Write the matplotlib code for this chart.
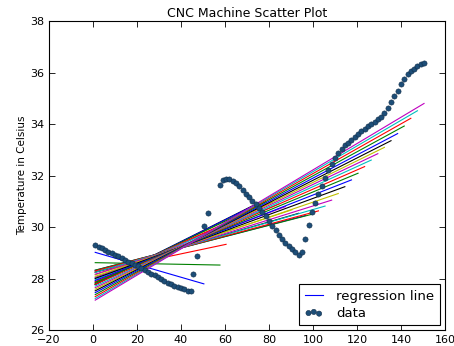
import numpy as np
import matplotlib
matplotlib.use("Agg")
import matplotlib.pyplot as plt

# time values
x_data = [1.0, 2.5, 4.0, 5.5, 7.0, 8.5, 10.0, 11.5, 13.0, 14.5, 16.0, 17.5, 19.0, 20.5,
          22.0, 23.5, 25.0, 26.5, 28.0, 29.5, 31.0, 32.5, 34.0, 35.5, 37.0, 38.5, 40.0,
          41.5, 43.0, 44.5,
          45.6, 47.4, 50.4, 52.4,
          57.7, 59.0, 60.5, 62.0, 63.5, 65.0, 66.5, 68.0, 69.5, 71.0, 72.5, 74.0, 75.5,
          77.0, 78.5, 80.0, 81.5, 83.0, 84.5, 86.0, 87.5, 89.0, 90.5, 92.0, 93.5,
          95.0, 96.5, 98.0, 99.5, 101.0, 102.5, 104.0, 105.5, 107.0, 108.5, 110.0, 111.5,
          113.0, 114.5, 116.0, 117.5, 119.0, 120.5, 122.0, 123.5, 125.0, 126.5, 128.0,
          129.5, 131.0, 132.5, 134.0, 135.5, 137.0, 138.5, 140.0, 141.5, 143.0, 144.5,
          146.0, 147.5, 149.0, 150.5]

# temperatures (Celsius)
y_data = [29.30, 29.24, 29.17, 29.11, 29.05, 28.98, 28.92, 28.86, 28.79, 28.73, 28.66,
          28.60, 28.53, 28.47, 28.40, 28.33, 28.26, 28.19, 28.12, 28.05, 27.98, 27.90,
          27.84, 27.78, 27.72, 27.67, 27.62, 27.58, 27.53, 27.52,
          28.17, 28.87, 30.04, 30.56,
          31.63, 31.82, 31.88, 31.86, 31.80, 31.70, 31.58, 31.44, 31.30, 31.15, 31.02,
          30.88, 30.74, 30.60, 30.45, 30.25, 30.05, 29.88, 29.70, 29.52, 29.38, 29.26,
          29.15, 29.05, 28.92,
          29.02, 29.52, 30.10, 30.60, 30.94, 31.30, 31.58, 31.90, 32.20, 32.45, 32.68,
          32.88, 33.05, 33.18, 33.28, 33.40, 33.50, 33.60, 33.72, 33.82, 33.92, 34.02,
          34.10, 34.18, 34.28, 34.42, 34.62, 34.85, 35.08, 35.30, 35.55, 35.75, 35.95,
          36.07, 36.15, 36.25, 36.32, 36.38]

# subset sizes used for the successive regression fits
fit_sizes = list(range(33, 98, 2))
line_colors = ['b', 'g', 'r', 'c', 'm', 'y', 'k']

x_ticks = [-20, 0, 20, 40, 60, 80, 100, 120, 140, 160]
y_ticks = [26, 28, 30, 32, 34, 36, 38]

plt.rcParams['font.family'] = ['DejaVu Sans']
fig = plt.figure(figsize=(4.54, 3.46), dpi=100)
ax = fig.add_axes([0.108, 0.046, 0.872, 0.893])

xa = np.array(x_data)
ya = np.array(y_data)
for i, n in enumerate(fit_sizes):
    coef = np.polyfit(xa[:n], ya[:n], 1)
    ax.plot(xa[:n], np.polyval(coef, xa[:n]), color=line_colors[i % len(line_colors)],
            lw=0.8, label='regression line' if i == 0 else None)

ax.scatter(x_data, y_data, s=14, c='#1d4e78', edgecolors='#102c48', linewidths=0.4,
           label='data', zorder=3)

ax.set_xlim(-20, 160)
ax.set_ylim(26, 38)
ax.set_xticks(x_ticks)
ax.set_yticks(y_ticks)
ax.tick_params(direction='in', top=True, right=True, labelsize=8, length=4, width=0.6)
for sp in ax.spines.values():
    sp.set_linewidth(0.8)
ax.set_title('CNC Machine Scatter Plot', fontsize=9, pad=3)
ax.set_ylabel('Temperature in Celsius', fontsize=7.5, labelpad=2)
leg = ax.legend(loc='lower right', scatterpoints=3, fontsize=9.5, fancybox=False,
                framealpha=1, edgecolor='black', borderaxespad=0.4,
                handlelength=1.4, handletextpad=1.0, borderpad=0.4, labelspacing=0.3)
leg.get_frame().set_linewidth(0.8)

fig.savefig('out.png', dpi=100)
